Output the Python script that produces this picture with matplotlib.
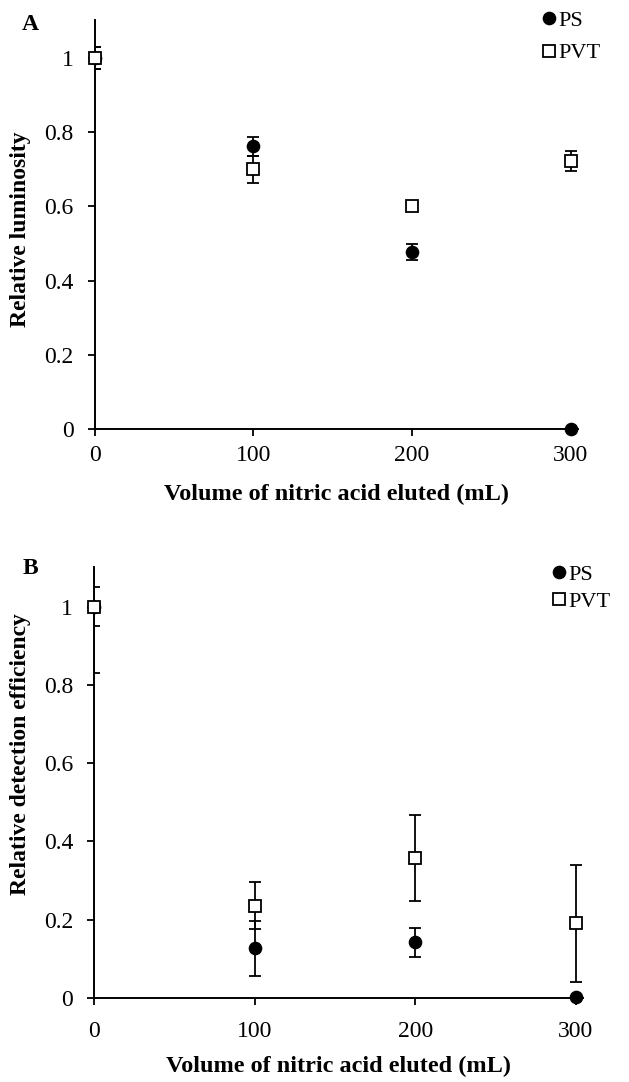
import matplotlib
matplotlib.use("Agg")
import matplotlib.pyplot as plt
from matplotlib.ticker import FuncFormatter

plt.rcParams['font.family'] = ['Liberation Serif', 'DejaVu Serif']

# ---- data ----
volume = [0, 100, 200, 300]

lum_ps = [1.0, 0.762, 0.478, 0.0]
lum_ps_err = [0.03, 0.025, 0.022, 0.0]
lum_pvt = [1.0, 0.700, 0.600, 0.723]
lum_pvt_err = [0.03, 0.037, 0.005, 0.027]

det_ps = [1.0, 0.126, 0.142, 0.003]
det_ps_err = [0.17, 0.070, 0.037, 0.0]
det_pvt = [1.0, 0.235, 0.358, 0.190]
det_pvt_err = [0.05, 0.060, 0.110, 0.150]

yticks = [0, 0.2, 0.4, 0.6, 0.8, 1.0]
xticks = [0, 100, 200, 300]

W, H = 629, 1082
fig = plt.figure(figsize=(W / 100, H / 100), dpi=100)

def axes_px(left, top, right, bottom):
    return fig.add_axes([left / W, 1 - bottom / H, (right - left) / W, (bottom - top) / H])

axA = axes_px(94.5, 20, 578, 429.4)
axB = axes_px(94, 567, 583, 997.7)

panels = [
    (axA, lum_ps, lum_ps_err, lum_pvt, lum_pvt_err, 'Relative luminosity'),
    (axB, det_ps, det_ps_err, det_pvt, det_pvt_err, 'Relative detection efficiency'),
]

fmt = FuncFormatter(lambda v, p: '%g' % v)

for ax, ps, pse, pvt, pvte, ylab in panels:
    ax.errorbar(volume, ps, yerr=pse, fmt='none', ecolor='black', elinewidth=1.3,
                capsize=4.2, capthick=1.3, zorder=3)
    ax.plot(volume, ps, linestyle='none', marker='o', markersize=8.8,
            markerfacecolor='black', markeredgecolor='black', label='PS', zorder=4,
            clip_on=False)
    ax.errorbar(volume, pvt, yerr=pvte, fmt='none', ecolor='black', elinewidth=1.3,
                capsize=4.2, capthick=1.3, zorder=5)
    ax.plot(volume, pvt, linestyle='none', marker='s', markersize=8,
            markerfacecolor='white', markeredgecolor='black', markeredgewidth=1.3,
            label='PVT', zorder=6, clip_on=False)
    ax.set_xlim(0, 304.5)
    ax.set_ylim(0, 1.102)
    ax.set_xticks(xticks)
    ax.set_yticks(yticks)
    ax.yaxis.set_major_formatter(fmt)
    for s in ['top', 'right']:
        ax.spines[s].set_visible(False)
    for s in ['left', 'bottom']:
        ax.spines[s].set_linewidth(1.4)
    ax.tick_params(direction='out', length=5, width=1.3, labelsize=17, colors='black')
    ax.tick_params(axis='y', pad=10)
    ax.set_ylabel(ylab, fontsize=17, fontweight='bold')

axA.tick_params(axis='x', pad=6)
axB.tick_params(axis='x', pad=12)
axA.set_xlabel('Volume of nitric acid eluted (mL)', fontsize=17.5, fontweight='bold', labelpad=13)
axB.set_xlabel('Volume of nitric acid eluted (mL)', fontsize=17.5, fontweight='bold', labelpad=10)

# panel letters
fig.text(30 / W, 1 - 25 / H, 'A', fontsize=17, fontweight='bold', ha='center', va='center')
fig.text(30 / W, 1 - 568 / H, 'B', fontsize=17, fontweight='bold', ha='center', va='center')

# y labels fixed position
axA.yaxis.set_label_coords((31 - 94.5) / (578 - 94.5), 0.49)
axB.yaxis.set_label_coords((31 - 94) / (583 - 94), 0.566)

axA.legend(loc='upper left', bbox_to_anchor=(542 / W, 1 - 10 / H), bbox_transform=fig.transFigure,
           frameon=False, fontsize=16, handlelength=0.6, handletextpad=0.15,
           labelspacing=0.55, borderpad=0, borderaxespad=0)
axB.legend(loc='upper left', bbox_to_anchor=(552 / W, 1 - 564 / H), bbox_transform=fig.transFigure,
           frameon=False, fontsize=16, handlelength=0.6, handletextpad=0.15,
           labelspacing=0.3, borderpad=0, borderaxespad=0)

fig.savefig('out.png', dpi=100, facecolor='white')
